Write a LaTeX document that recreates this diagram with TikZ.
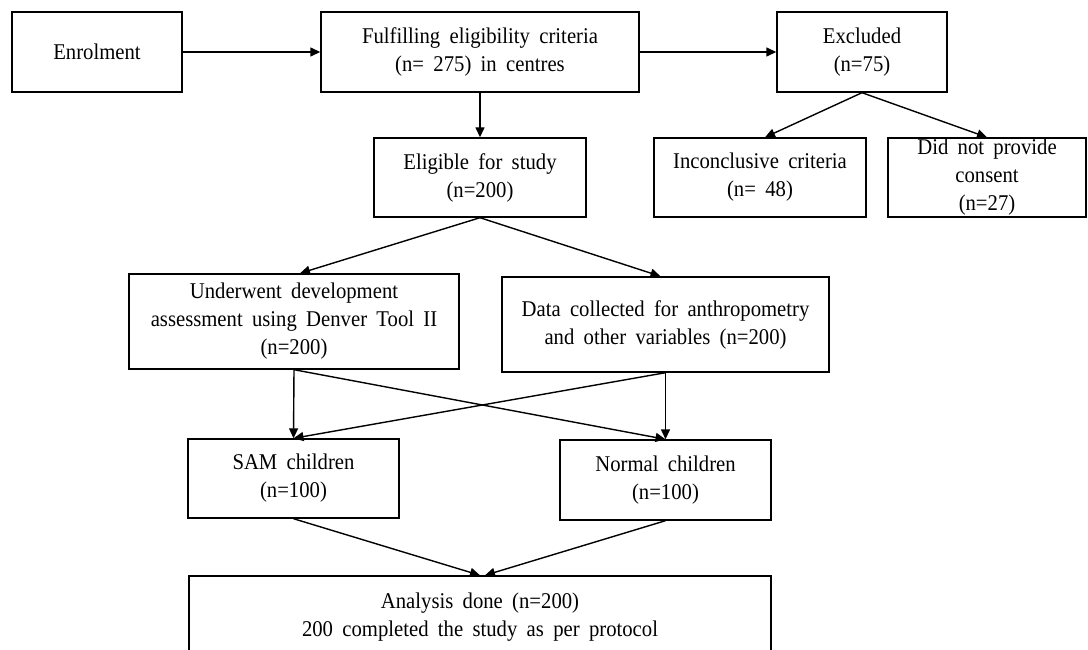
\documentclass[tikz,border=0pt]{standalone}
\usepackage{fontspec}
\setmainfont{Liberation Serif}[FakeStretch=0.92, WordSpace=1.8]
\usetikzlibrary{arrows.meta}

\begin{document}
\begin{tikzpicture}[
    x=1pt,
    y=-1pt,
    line width=1.4pt,
    >={Triangle[length=10pt,width=9pt]},
    every node/.style={
      draw,
      rectangle,
      align=center,
      inner sep=1pt,
      font=\fontsize{22.5}{28}\selectfont
    }
  ]
    \useasboundingbox (0,0) rectangle (1088,650);

    \node[minimum width=170pt, minimum height=80pt] (enrol) at (97, 52) {Enrolment};
    \node[minimum width=318pt, minimum height=80pt] (fulfil) at (480, 52) {Fulfilling eligibility criteria\\(n= 275) in centres};
    \node[minimum width=170pt, minimum height=80pt] (excl) at (862, 52) {Excluded\\(n=75)};
    \node[minimum width=212pt, minimum height=79pt] (elig) at (480, 177.5) {Eligible for study\\(n=200)};
    \node[minimum width=212pt, minimum height=79pt] (incon) at (760, 177.5) {Inconclusive criteria\\(n= 48)};
    \node[minimum width=198pt, minimum height=79pt] (consent) at (987, 177.5) {Did not provide\\consent\\(n=27)};
    \node[minimum width=330pt, minimum height=95pt] (under) at (294, 321.5) {Underwent development\\assessment using Denver Tool II\\(n=200)};
    \node[minimum width=327pt, minimum height=95pt] (data) at (665.5, 324.5) {Data collected for anthropometry\\and other variables (n=200)};
    \node[minimum width=211pt, minimum height=79pt] (sam) at (293.5, 478.5) {SAM children\\(n=100)};
    \node[minimum width=211pt, minimum height=80pt] (normal) at (665.5, 480) {Normal children\\(n=100)};
    \node[minimum width=582pt, minimum height=83pt] (analysis) at (480, 617.5) {Analysis done (n=200)\\200 completed the study as per protocol};

    \draw[->] (enrol) to (fulfil);
    \draw[->] (fulfil) to (excl);
    \draw[->] (fulfil.south) to (elig.north);
    \draw[->] (excl.south) to ([xshift=5pt]incon.north);
    \draw[->] (excl.south) to (consent.north);
    \draw[->] (elig.south) to ([xshift=6pt]under.north);
    \draw[->] (elig.south) to ([xshift=-5pt]data.north);
    \draw[->] (under.south) to (sam.north);
    \draw[->] (under.south) to (normal.north);
    \draw[->] (data.south) to (normal.north);
    \draw[->] (data.south) to (sam.north);
    \draw[->] (sam.south) to (analysis.north);
    \draw[->] (normal.south) to ([xshift=5pt]analysis.north);
  \end{tikzpicture}
\end{document}
